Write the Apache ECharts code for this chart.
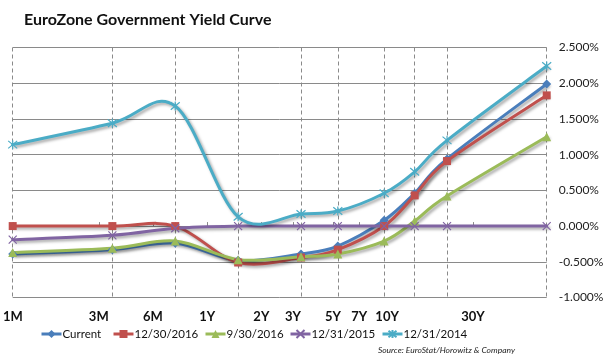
<!DOCTYPE html>
<html>
<head>
<meta charset="utf-8">
<script src="https://cdn.jsdelivr.net/npm/echarts@6/dist/echarts.min.js"></script>
<style>html,body{margin:0;padding:0;background:#fff;}#c{width:607px;height:360px;}</style>
</head>
<body>
<div id="c"></div>
<script>
// Maturities (in months) and their tick labels
var maturityMonths = [1, 3, 6, 12, 24, 36, 60, 84, 120, 360];
var tickLabels = ['1M', '3M', '6M', '1Y', '2Y', '3Y', '5Y', '7Y', '10Y', '30Y'];
// Yields in %
var current  = [-0.39, -0.33, -0.24, -0.48, -0.39, -0.28, 0.08, 0.46, 0.94, 1.99];
var dec2016  = [0.00, 0.00, 0.00, -0.51, -0.44, -0.33, 0.00, 0.43, 0.91, 1.83];
var sep2016  = [-0.37, -0.31, -0.21, -0.47, -0.43, -0.39, -0.21, 0.07, 0.42, 1.25];
var dec2015  = [-0.19, -0.13, -0.03, 0.00, 0.00, 0.00, 0.00, 0.00, 0.00, 0.00];
var dec2014  = [1.14, 1.44, 1.68, 0.13, 0.17, 0.21, 0.46, 0.76, 1.20, 2.24];
var seriesNames = ['Current', '12/30/2016', '9/30/2016', '12/31/2015', '12/31/2014'];

var xs = maturityMonths.map(function (m) { return Math.log10(m); });
var xMin = xs[0], xMax = xs[xs.length - 1];
var labelMap = {};
xs.forEach(function (x, i) { labelMap[x.toFixed(6)] = tickLabels[i]; });

function pts(arr) { return arr.map(function (v, i) { return [xs[i], v]; }); }

// Excel-style smoothed curve (Catmull-Rom, 1/6 tangent) through axis coordinates
function curveSeries(arr, color) {
  return {
    type: 'custom', coordinateSystem: 'cartesian2d', xAxisIndex: 0, yAxisIndex: 0,
    silent: true, animation: false,
    data: [[xs[0], arr[0]]],
    encode: { x: 0, y: 1 },
    renderItem: function (params, api) {
      var p = arr.map(function (v, i) { return api.coord([xs[i], v]); });
      var n = p.length;
      var d = 'M' + p[0][0] + ',' + p[0][1];
      for (var i = 0; i < n - 1; i++) {
        var P0 = p[i > 0 ? i - 1 : i], P1 = p[i], P2 = p[i + 1], P3 = p[i + 2 < n ? i + 2 : i + 1];
        var c1x = P1[0] + (P2[0] - P0[0]) / 6, c1y = P1[1] + (P2[1] - P0[1]) / 6;
        var c2x = P2[0] - (P3[0] - P1[0]) / 6, c2y = P2[1] - (P3[1] - P1[1]) / 6;
        d += 'C' + c1x + ',' + c1y + ',' + c2x + ',' + c2y + ',' + P2[0] + ',' + P2[1];
      }
      return {
        type: 'path', shape: { pathData: d },
        style: {
          fill: 'none', stroke: color, lineWidth: 3, lineCap: 'round', lineJoin: 'round',
          shadowColor: 'rgba(0,0,0,0.35)', shadowBlur: 3, shadowOffsetX: 2, shadowOffsetY: 2
        }
      };
    }
  };
}

function markerSeries(name, data, color, symbol, size, extraItem) {
  return {
    name: name, type: 'line', data: pts(data), smooth: false,
    xAxisIndex: 0, yAxisIndex: 0,
    symbol: symbol, symbolSize: size, showAllSymbol: true,
    color: color,
    lineStyle: { width: 3, color: color, opacity: 0 },
    itemStyle: Object.assign({ color: color, borderColor: color, borderWidth: 0 }, extraItem || {}),
    emphasis: { disabled: true },
    animation: false
  };
}

var colors = ['#4a7ebb', '#c0504d', '#9bbb59', '#8064a2', '#4bacc6'];
var legendLefts = [40, 112, 204, 289, 381];
var legends = seriesNames.map(function (nm, i) {
  return {
    data: [nm], left: legendLefts[i], top: 328, itemWidth: 20, itemHeight: 10, padding: 0,
    lineStyle: { opacity: 1, width: 3 },
    textStyle: { fontFamily: 'Lato', fontSize: 11.5, color: '#111', padding: [0, 0, 0, -4] },
    selectedMode: false
  };
});

var chart = echarts.init(document.getElementById('c'));
chart.setOption({
  animation: false,
  title: {
    text: 'EuroZone Government Yield Curve', left: 19, top: 7,
    textStyle: { fontFamily: 'Lato', fontWeight: 'bold', fontSize: 16, color: '#111' }
  },
  legend: legends,
  graphic: [{
    type: 'text', right: 92, top: 346,
    style: { text: 'Source: EuroStat/Horowitz & Company', font: 'italic 8.5px Lato', fill: '#222' }
  }],
  grid: [
    { left: 12.7, width: 534, top: 47.5, height: 250 },
    { left: 11.7, width: 461.3, top: 47.5, height: 250 }
  ],
  xAxis: [
    {
      type: 'value', gridIndex: 0, min: xMin, max: xMax,
      axisLine: { show: false },
      axisTick: { show: false, customValues: xs },
      axisLabel: { show: false },
      splitLine: { show: true, lineStyle: { color: '#8a8a8a', type: [4, 3], width: 1 } }
    },
    {
      type: 'value', gridIndex: 1, position: 'top', min: xMin, max: xMax,
      axisLine: { show: false },
      axisTick: { show: true, inside: false, length: 4, customValues: xs, lineStyle: { color: '#8a8a8a', width: 1 } },
      axisLabel: { show: false },
      splitLine: { show: false }
    },
    {
      type: 'value', gridIndex: 1, position: 'bottom', min: xMin, max: xMax,
      axisLine: { show: false },
      axisTick: { show: false, customValues: xs },
      axisLabel: {
        show: true, customValues: xs, margin: 13,
        fontFamily: 'Lato', fontWeight: 'bold', fontSize: 13, color: '#111',
        formatter: function (v) { return labelMap[v.toFixed(6)] || ''; }
      },
      splitLine: { show: false }
    }
  ],
  yAxis: [
    {
      type: 'value', gridIndex: 0, position: 'right', min: -1, max: 2.5, interval: 0.5,
      axisLine: { show: false }, axisTick: { show: false },
      axisLabel: {
        margin: 12, fontFamily: 'Lato', fontSize: 12, color: '#222',
        formatter: function (v) { return v.toFixed(3) + '%'; }
      },
      splitLine: { show: true, lineStyle: { color: '#8a8a8a', width: 1 } }
    },
    { type: 'value', gridIndex: 1, min: -1, max: 2.5, show: false }
  ],
  series: [
    curveSeries(current, colors[0]),
    markerSeries(seriesNames[0], current, colors[0], 'diamond', 9),
    curveSeries(dec2016, colors[1]),
    markerSeries(seriesNames[1], dec2016, colors[1], 'rect', 8),
    curveSeries(sep2016, colors[2]),
    markerSeries(seriesNames[2], sep2016, colors[2], 'triangle', 9),
    curveSeries(dec2015, colors[3]),
    markerSeries(seriesNames[3], dec2015, colors[3], 'path://M0,0L10,10M10,0L0,10', 8, { borderWidth: 1.2, color: 'rgba(0,0,0,0)' }),
    curveSeries(dec2014, colors[4]),
    markerSeries(seriesNames[4], dec2014, colors[4], 'path://M0,0L10,10M10,0L0,10M5,-1L5,11', 9, { borderWidth: 1.2, color: 'rgba(0,0,0,0)' })
  ]
});
</script>
</body>
</html>
